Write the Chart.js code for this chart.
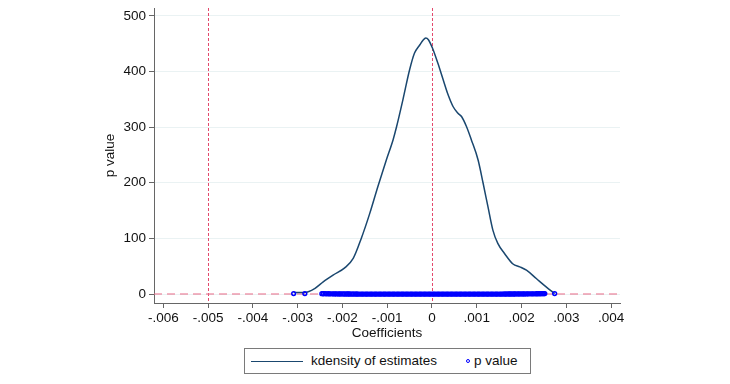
<!DOCTYPE html>
<html>
<head>
<meta charset="utf-8">
<script src="https://cdn.jsdelivr.net/npm/chart.js@4"></script>
<style>
  html, body { margin: 0; padding: 0; background: #fff; }
  #wrap { position: relative; width: 730px; height: 384px; font-family: 'Liberation Sans', Arial, sans-serif; }
  #legend {
    position: absolute; left: 244px; top: 348px; width: 285px; height: 24px;
    border: 1px solid #7a7a7a; background: #fff; font-size: 13.5px; color: #111;
  }
  #legend .ln { position: absolute; left: 6px; top: 12px; width: 52px; height: 0; border-top: 1.5px solid #1a476f; }
  #legend .t1 { position: absolute; left: 66px; top: 4px; }
  #legend .dot { position: absolute; left: 221px; top: 10px; width: 2px; height: 2px; border: 1.5px solid #0000ff; border-radius: 50%; }
  #legend .t2 { position: absolute; left: 229px; top: 4px; }
</style>
</head>
<body>
<div id="wrap">
  <canvas id="c" width="730" height="384"></canvas>
  <div id="legend"><span class="ln"></span><span class="t1">kdensity of estimates</span><span class="dot"></span><span class="t2">p value</span></div>
</div>
<script>
// kernel density of the estimates
const KDE_X = [-0.00309, -0.00284, -0.00262, -0.00243, -0.00221, -0.00195, -0.00176, -0.00158, -0.00139, -0.00121,
  -0.00102, -0.00087, -0.00079, -0.00065, -0.00050, -0.00039, -0.00027, -0.00020, -0.00014, -0.00008, 0.00001,
  0.00013, 0.00025, 0.00036, 0.00047, 0.00058, 0.00066, 0.00077, 0.00088, 0.00103, 0.00114, 0.00125, 0.00136,
  0.00147, 0.00162, 0.00181, 0.00196, 0.00211, 0.00233, 0.00255, 0.00274];
const KDE_Y = [3, 3, 10, 22, 34, 47, 64, 100, 145, 193,
  241, 277, 301, 349, 403, 433, 448, 456, 460, 457, 442,
  415, 385, 358, 337, 325, 319, 301, 277, 241, 200, 157, 115,
  91, 73, 54, 49, 43, 28, 13, 1];

// coefficient estimates and their p values (p values sit near zero on this axis)
const COEF = [
  -0.00309, -0.00284, -0.00246, -0.00243, -0.00239, -0.00236, -0.00232, -0.00229, -0.00226, -0.00222,
  -0.00219, -0.00216, -0.00213, -0.00209, -0.00206, -0.00203, -0.00199, -0.00196, -0.00192, -0.00189,
  -0.00186, -0.00183, -0.00179, -0.00176, -0.00172, -0.00169, -0.00166, -0.00163, -0.00159, -0.00156,
  -0.00153, -0.00149, -0.00146, -0.00143, -0.00139, -0.00136, -0.00133, -0.00129, -0.00126, -0.00123,
  -0.00119, -0.00116, -0.00113, -0.00109, -0.00106, -0.00103, -0.00099, -0.00096, -0.00093, -0.00089,
  -0.00086, -0.00083, -0.00079, -0.00076, -0.00073, -0.00069, -0.00066, -0.00063, -0.00059, -0.00056,
  -0.00053, -0.00049, -0.00046, -0.00043, -0.00039, -0.00036, -0.00033, -0.00029, -0.00026, -0.00023,
  -0.00019, -0.00016, -0.00013, -0.00009, -0.00006, -0.00003, 0.00001, 0.00004, 0.00007, 0.00011,
  0.00014, 0.00017, 0.00021, 0.00024, 0.00027, 0.00031, 0.00034, 0.00037, 0.00041, 0.00044,
  0.00047, 0.00051, 0.00054, 0.00057, 0.00061, 0.00064, 0.00067, 0.00071, 0.00074, 0.00077,
  0.00081, 0.00084, 0.00087, 0.00091, 0.00094, 0.00097, 0.00101, 0.00104, 0.00107, 0.00111,
  0.00114, 0.00117, 0.00121, 0.00124, 0.00127, 0.00131, 0.00134, 0.00137, 0.00141, 0.00144,
  0.00147, 0.00151, 0.00154, 0.00157, 0.00161, 0.00164, 0.00167, 0.00171, 0.00174, 0.00177,
  0.00181, 0.00184, 0.00187, 0.00191, 0.00194, 0.00197, 0.00201, 0.00204, 0.00207, 0.00211,
  0.00214, 0.00217, 0.00221, 0.00224, 0.00227, 0.00231, 0.00234, 0.00237, 0.00241, 0.00244,
  0.00247, 0.00250, 0.00252, 0.00274];
const PVAL = [
  0.91, 0.86, 0.72, 0.64, 0.69, 0.55, 0.61, 0.47, 0.52, 0.43,
  0.38, 0.45, 0.33, 0.29, 0.36, 0.24, 0.27, 0.21, 0.18, 0.23,
  0.15, 0.19, 0.12, 0.16, 0.10, 0.13, 0.08, 0.11, 0.07, 0.09,
  0.06, 0.08, 0.05, 0.07, 0.04, 0.05, 0.03, 0.06, 0.04, 0.03,
  0.02, 0.04, 0.03, 0.02, 0.01, 0.03, 0.02, 0.01, 0.02, 0.01,
  0.01, 0.00, 0.01, 0.01, 0.00, 0.01, 0.00, 0.00, 0.01, 0.00,
  0.00, 0.00, 0.01, 0.00, 0.00, 0.00, 0.00, 0.01, 0.00, 0.00,
  0.00, 0.00, 0.00, 0.00, 0.00, 0.00, 0.00, 0.00, 0.00, 0.00,
  0.00, 0.00, 0.00, 0.01, 0.00, 0.00, 0.00, 0.00, 0.01, 0.00,
  0.00, 0.01, 0.00, 0.00, 0.01, 0.00, 0.01, 0.01, 0.00, 0.01,
  0.01, 0.02, 0.01, 0.01, 0.02, 0.01, 0.02, 0.03, 0.02, 0.02,
  0.03, 0.04, 0.03, 0.05, 0.04, 0.06, 0.05, 0.07, 0.06, 0.08,
  0.09, 0.07, 0.11, 0.10, 0.13, 0.12, 0.15, 0.14, 0.18, 0.17,
  0.21, 0.19, 0.25, 0.23, 0.29, 0.27, 0.34, 0.31, 0.38, 0.36,
  0.43, 0.41, 0.49, 0.46, 0.55, 0.52, 0.61, 0.58, 0.66, 0.71,
  0.76, 0.81, 0.85, 0.93];

const X_TICKS = [-0.006, -0.005, -0.004, -0.003, -0.002, -0.001, 0, 0.001, 0.002, 0.003, 0.004];
const X_LABELS = ['-.006', '-.005', '-.004', '-.003', '-.002', '-.001', '0', '.001', '.002', '.003', '.004'];
const Y_TICKS = [0, 100, 200, 300, 400, 500];
const V_LINES = [-0.005, 0];
const H_LINES = [0];

Chart.defaults.font.family = "'Liberation Sans', Arial, sans-serif";
Chart.defaults.font.size = 13.5;
Chart.defaults.color = '#111';

const refLines = {
  id: 'refLines',
  beforeDatasetsDraw(chart) {
    const { ctx, chartArea: a, scales: { x, y } } = chart;
    ctx.save();
    ctx.lineWidth = 1;
    ctx.strokeStyle = 'rgb(228, 72, 108)';
    ctx.setLineDash([3, 2]);
    V_LINES.forEach(v => {
      const px = Math.round(x.getPixelForValue(v)) + 0.5;
      ctx.beginPath(); ctx.moveTo(px, a.top); ctx.lineTo(px, a.bottom); ctx.stroke();
    });
    ctx.lineWidth = 1.5;
    ctx.strokeStyle = 'rgba(232, 110, 140, 0.7)';
    ctx.setLineDash([8, 5]);
    H_LINES.forEach(v => {
      const py = y.getPixelForValue(v);
      ctx.beginPath(); ctx.moveTo(a.left, py); ctx.lineTo(a.right, py); ctx.stroke();
    });
    ctx.restore();
  }
};

new Chart(document.getElementById('c'), {
  type: 'scatter',
  data: {
    datasets: [{
      label: 'kdensity of estimates',
      data: KDE_X.map((v, i) => ({ x: v, y: KDE_Y[i] })),
      showLine: true,
      borderColor: '#1a476f',
      borderWidth: 1.5,
      pointRadius: 0,
      cubicInterpolationMode: 'monotone',
      order: 1
    }, {
      label: 'p value',
      data: COEF.map((v, i) => ({ x: v, y: PVAL[i] })),
      showLine: false,
      pointStyle: 'circle',
      pointRadius: 1.9,
      pointBorderWidth: 1.5,
      borderColor: '#0000ff',
      backgroundColor: 'rgba(0,0,0,0)',
      order: 0
    }]
  },
  options: {
    responsive: false,
    animation: false,
    layout: { padding: { left: 0, right: 110, top: 8, bottom: 0 } },
    plugins: { legend: { display: false }, tooltip: { enabled: false } },
    scales: {
      x: {
        type: 'linear',
        min: -0.00621,
        max: 0.0042,
        afterBuildTicks: s => { s.ticks = X_TICKS.map(v => ({ value: v })); },
        afterFit: s => { s.height = 81; s.paddingLeft = 0; s.paddingRight = 0; },
        ticks: { padding: 2, autoSkip: false, maxRotation: 0, callback: v => X_LABELS[X_TICKS.indexOf(v)] },
        grid: { drawOnChartArea: false, drawTicks: true, tickLength: 5, tickColor: '#666' },
        border: { display: true, color: '#666', width: 1 },
        title: { display: true, text: 'Coefficients', padding: { top: 0, bottom: 43 } }
      },
      y: {
        type: 'linear',
        min: -16,
        max: 514,
        afterBuildTicks: s => { s.ticks = Y_TICKS.map(v => ({ value: v })); },
        afterFit: s => { s.width = 154; s.paddingTop = 0; s.paddingBottom = 0; },
        ticks: { padding: 3 },
        grid: { color: '#eaf2f3', lineWidth: 1, tickLength: 5, tickColor: '#666' },
        border: { display: true, color: '#666', width: 1 },
        title: { display: true, text: 'p value', padding: { top: 102.6, bottom: 0 } }
      }
    }
  },
  plugins: [refLines]
});
</script>
</body>
</html>
